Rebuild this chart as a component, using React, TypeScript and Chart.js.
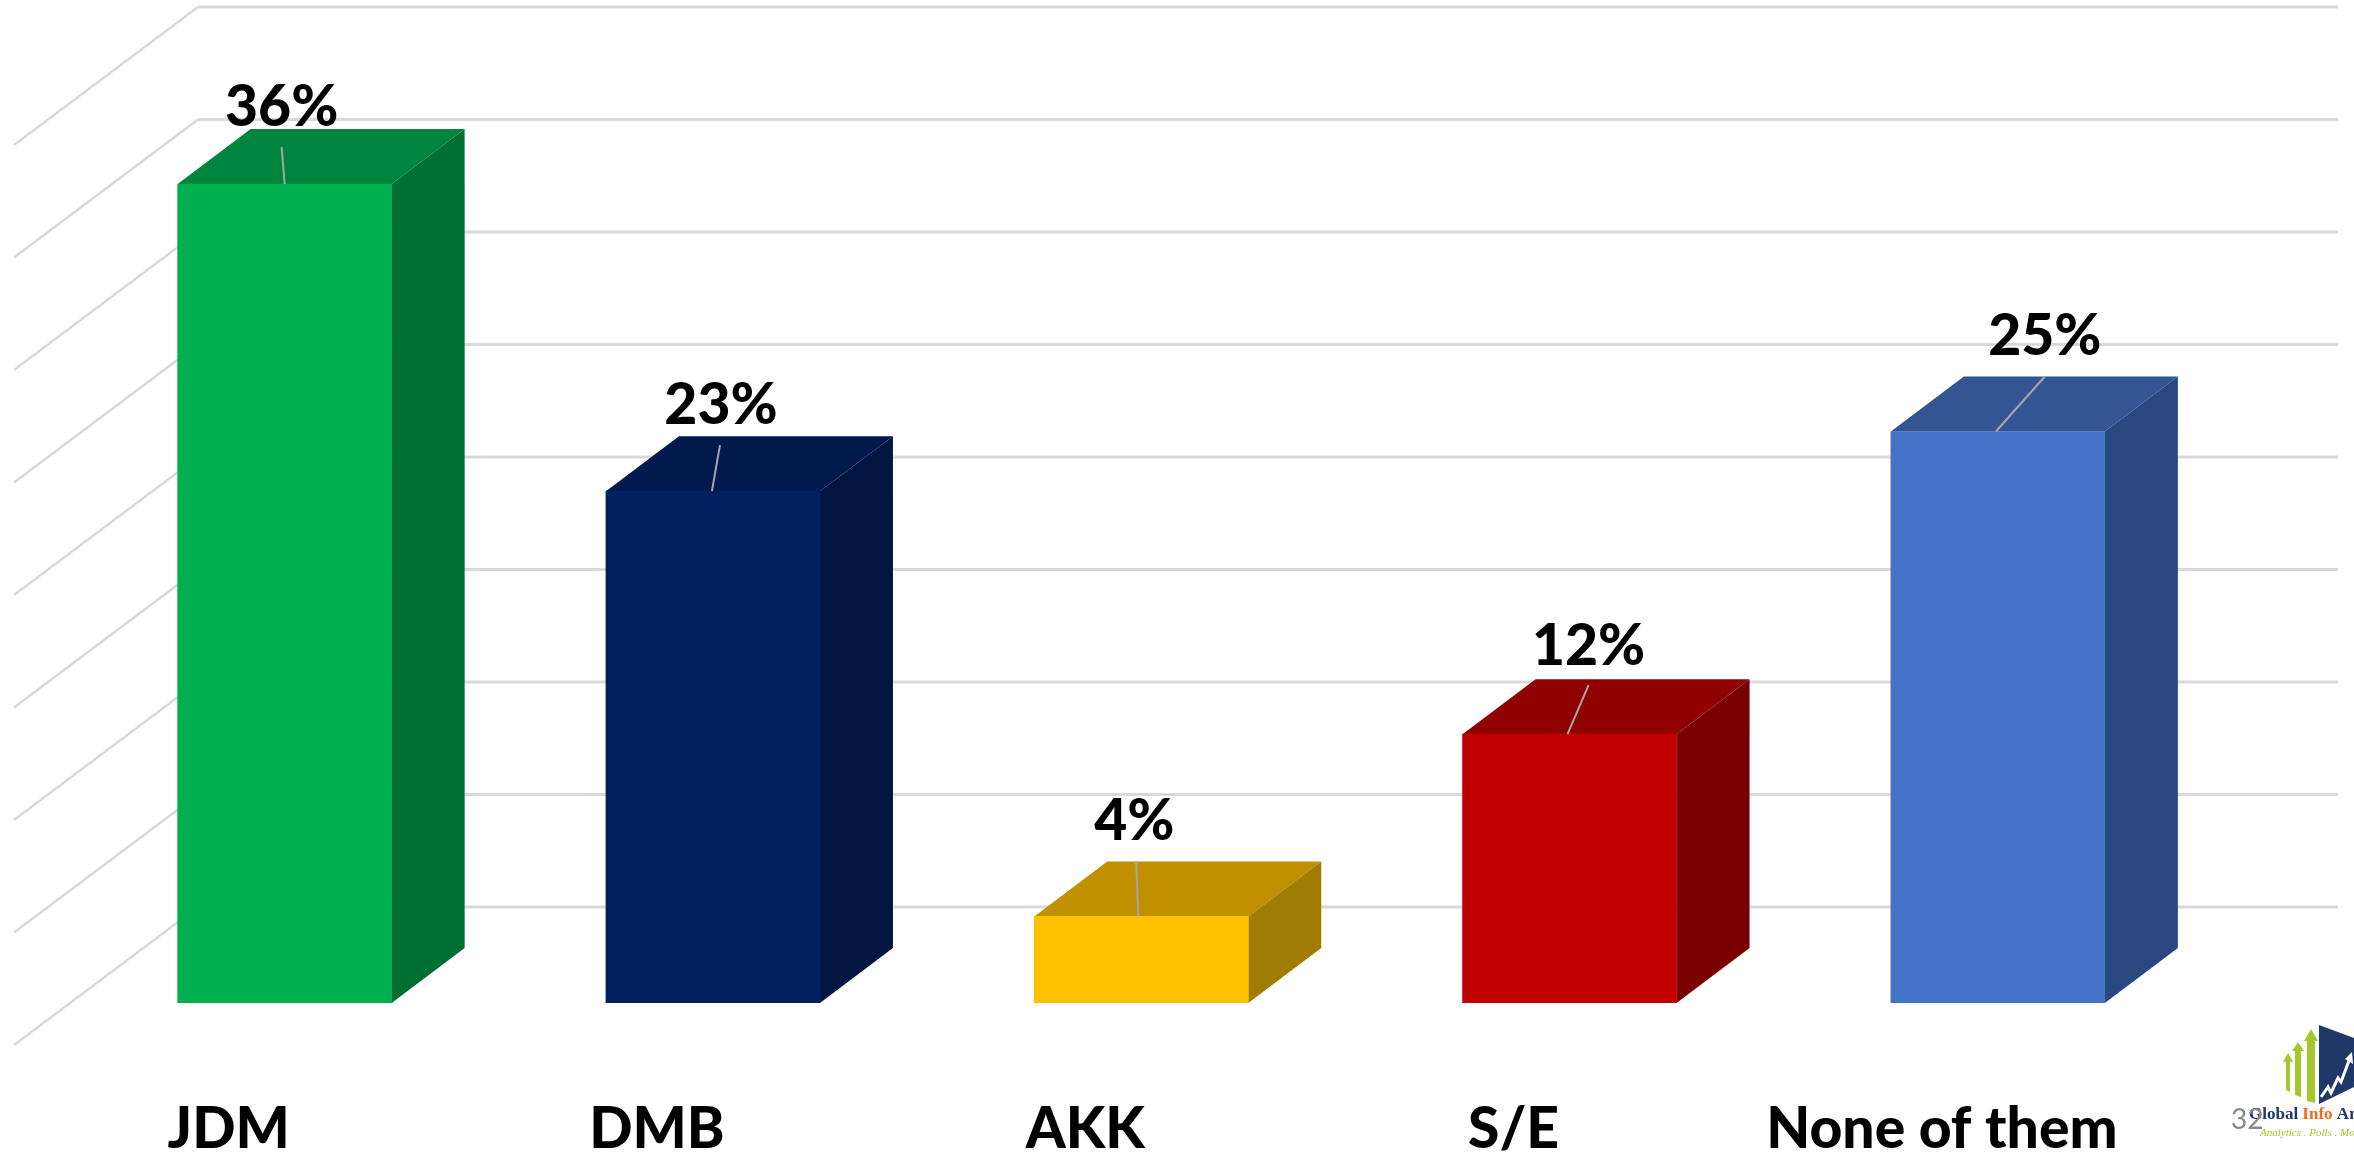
import React, { useEffect, useRef } from "react";
import { Chart, registerables } from "chart.js";

Chart.register(...registerables);

const categories = ["JDM", "DMB", "AKK", "S/E", "None of them"];
const shares = [36.4, 22.75, 3.85, 11.95, 25.4];
const frontColors = ["#00B050", "#002060", "#FFC000", "#C00000", "#4472C4"];
const topColors = ["#00853D", "#001A4E", "#C09000", "#900000", "#335593"];
const sideColors = ["#006F32", "#00153F", "#A07C00", "#7A0000", "#2A4880"];
const labelOffsetX = [-3, 8, -7, 19, 47];
const labelOffsetY = [-76, -86, -95, -88, -95];
const leaderOffsetX = [-3, 7, -5, 19, 47];
const leaderOffsetY = [-37, -46, -55, -49, -55];
const leaderBaseX = [0, -1, -3, -2, -2];

const FONT = "Lato";
const DEPTH_X = 73;
const DEPTH_Y = 55;

const poly = (ctx: CanvasRenderingContext2D, pts: number[][], fill: string) => {
  ctx.beginPath();
  pts.forEach(([x, y], i) => (i ? ctx.lineTo(x, y) : ctx.moveTo(x, y)));
  ctx.closePath();
  ctx.fillStyle = fill;
  ctx.fill();
};

const wallPlugin = {
  id: "walls",
  beforeDatasetsDraw(chart: any) {
    const { ctx, scales } = chart;
    ctx.save();
    ctx.strokeStyle = "#D9D9D9";
    scales.y.ticks.forEach((t: any) => {
      const y = scales.y.getPixelForValue(t.value);
      ctx.lineWidth = 2.5;
      ctx.beginPath();
      ctx.moveTo(14, y + 42);
      ctx.lineTo(198, y - 96);
      ctx.stroke();
      ctx.lineWidth = 3;
      ctx.beginPath();
      ctx.moveTo(198, y - 96);
      ctx.lineTo(2338, y - 96);
      ctx.stroke();
    });
    const meta = chart.getDatasetMeta(0);
    meta.data.forEach((bar: any, i: number) => {
      const { x, y, base, width } = bar.getProps(["x", "y", "base", "width"], true);
      const l = x - width / 2;
      const r = x + width / 2;
      poly(ctx, [[l, y], [r, y], [r + DEPTH_X, y - DEPTH_Y], [l + DEPTH_X, y - DEPTH_Y]], topColors[i]);
      poly(ctx, [[r, y], [r + DEPTH_X, y - DEPTH_Y], [r + DEPTH_X, base - DEPTH_Y], [r, base]], sideColors[i]);
    });
    ctx.restore();
  },
};

const labelPlugin = {
  id: "labels3d",
  afterDatasetsDraw(chart: any) {
    const { ctx } = chart;
    ctx.save();
    const meta = chart.getDatasetMeta(0);
    meta.data.forEach((bar: any, i: number) => {
      const { x, y } = bar.getProps(["x", "y"], true);
      ctx.strokeStyle = "#A6A6A6";
      ctx.lineWidth = 2;
      ctx.beginPath();
      ctx.moveTo(x + leaderOffsetX[i], y + leaderOffsetY[i]);
      ctx.lineTo(x + leaderBaseX[i], y);
      ctx.stroke();
      ctx.fillStyle = "#000000";
      ctx.font = `900 57px ${FONT}`;
      ctx.textAlign = "center";
      ctx.textBaseline = "middle";
      ctx.fillText(`${Math.round(shares[i])}%`, x + labelOffsetX[i], y + labelOffsetY[i]);
    });
    ctx.restore();
  },
};

const logoPlugin = {
  id: "logo",
  afterDraw(chart: any) {
    const { ctx } = chart;
    ctx.save();
    const green = "#A5C72D";
    [
      [2288, 1053, 1091, 3, 3],
      [2298, 1042, 1096, 4, 3],
      [2311, 1029, 1102, 5, 4],
    ].forEach(([x, top, bottom, half, head]) => {
      poly(
        ctx,
        [
          [x, top],
          [x + half + 2, top + head * 3],
          [x + half - 1, top + head * 3],
          [x + half - 1, bottom + 1],
          [x - half + 1, bottom - 1],
          [x - half + 1, top + head * 3],
          [x - half - 2, top + head * 3],
        ],
        green
      );
    });
    poly(ctx, [[2319, 1025], [2354, 1038], [2354, 1087], [2319, 1104]], "#1F3868");
    ctx.strokeStyle = "#FFFFFF";
    ctx.lineWidth = 3;
    ctx.beginPath();
    ctx.moveTo(2321, 1097);
    ctx.lineTo(2328, 1087);
    ctx.lineTo(2331, 1093);
    ctx.lineTo(2338, 1078);
    ctx.lineTo(2341, 1082);
    ctx.lineTo(2350, 1058);
    ctx.stroke();
    poly(ctx, [[2352, 1052], [2353, 1064], [2345, 1059]], "#FFFFFF");

    ctx.textBaseline = "middle";
    ctx.textAlign = "left";
    ctx.font = "bold 17px 'Liberation Serif'";
    ctx.fillStyle = "#1F3868";
    ctx.fillText("Global", 2249, 1115);
    let x = 2249 + ctx.measureText("Global ").width;
    ctx.fillStyle = "#F26B1D";
    ctx.fillText("Info", x, 1115);
    x += ctx.measureText("Info ").width;
    ctx.fillStyle = "#1F3868";
    ctx.fillText("Analysis", x, 1115);
    ctx.font = "italic 11px 'Liberation Serif'";
    ctx.fillStyle = green;
    ctx.fillText("Analytics . Polls . Mood", 2260, 1133);

    ctx.font = `28px ${FONT}`;
    ctx.fillStyle = "#898989";
    ctx.fillText("32", 2231, 1120);
    ctx.restore();
  },
};

export default function App() {
  const ref = useRef<HTMLCanvasElement>(null);
  useEffect(() => {
    const chart = new Chart(ref.current!, {
      type: "bar",
      data: {
        labels: categories,
        datasets: [
          {
            data: shares,
            backgroundColor: frontColors,
            borderWidth: 0,
            barThickness: 214,
          },
        ],
      },
      options: {
        responsive: false,
        animation: false,
        layout: { padding: { left: 70.5, right: 142, top: 103, bottom: 0 } },
        plugins: { legend: { display: false }, tooltip: { enabled: false } },
        scales: {
          x: {
            grid: { display: false },
            border: { display: false },
            afterFit: (s: any) => {
              s.height = 150;
            },
            ticks: {
              color: "#000000",
              font: { family: FONT, size: 57, weight: "900" },
              padding: 84,
              labelOffset: -56,
              maxRotation: 0,
              autoSkip: false,
            },
          },
          y: {
            min: 0,
            max: 40,
            grid: { display: false },
            border: { display: false },
            ticks: { display: false, stepSize: 5 },
            afterFit: (s: any) => {
              s.width = 0;
            },
          },
        },
      },
      plugins: [wallPlugin, labelPlugin, logoPlugin],
    } as any);
    return () => chart.destroy();
  }, []);
  return (
    <div style={{ position: "fixed", inset: 0, background: "#FFFFFF", overflow: "hidden" }}>
      <canvas ref={ref} width={2354} height={1153} style={{ display: "block" }} />
    </div>
  );
}
